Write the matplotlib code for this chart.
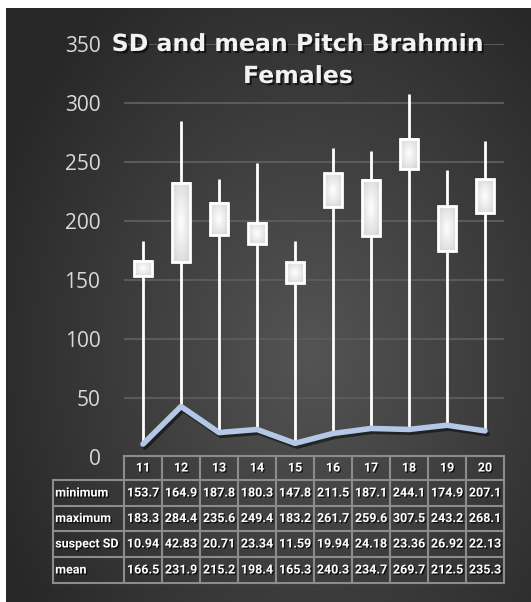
import numpy as np
import matplotlib.pyplot as plt
from matplotlib import patheffects as pe
from matplotlib.patches import Rectangle
from matplotlib.transforms import blended_transform_factory

categories = ['11', '12', '13', '14', '15', '16', '17', '18', '19', '20']
minimum = [153.7, 164.9, 187.8, 180.3, 147.8, 211.5, 187.1, 244.1, 174.9, 207.1]
maximum = [183.3, 284.4, 235.6, 249.4, 183.2, 261.7, 259.6, 307.5, 243.2, 268.1]
suspect_sd = [10.94, 42.83, 20.71, 23.34, 11.59, 19.94, 24.18, 23.36, 26.92, 22.13]
mean = [166.5, 231.9, 215.2, 198.4, 165.3, 240.3, 234.7, 269.7, 212.5, 235.3]

W, H = 531, 602
fig = plt.figure(figsize=(W / 100, H / 100), dpi=100)
fig.patch.set_facecolor('white')

# dark radial background
bg = fig.add_axes([6 / W, 0, 1 - 6 / W, 1 - 8 / H])
yy, xx = np.mgrid[1:0:400j, 0:1:400j]
r = np.sqrt(((xx - 0.58) / 0.75) ** 2 + ((yy - 0.42) / 0.85) ** 2)
shade = 0.33 - 0.17 * np.clip(r / 0.85, 0, 1)
bg.imshow(np.dstack([shade] * 3), extent=(0, 1, 0, 1), aspect='auto')
bg.axis('off')

ax = fig.add_axes([124 / W, 1 - 457 / H, 380 / W, 413 / H])
ax.patch.set_alpha(0)
x = np.arange(len(categories))

ax.vlines(x, suspect_sd, maximum, colors='white', lw=2, zorder=2)

# up bars with a soft radial fill
bw = 0.45
gy, gx = np.mgrid[-1:1:60j, -1:1:30j]
glow = np.clip(1 - np.sqrt(gx ** 2 + gy ** 2) / 1.3, 0, 1)
box_img = np.dstack([0.84 + 0.16 * glow] * 3)
for i in x:
    lo, hi = min(minimum[i], mean[i]), max(minimum[i], mean[i])
    ax.imshow(box_img, extent=(i - bw / 2, i + bw / 2, lo, hi), aspect='auto', zorder=3)
    ax.add_patch(Rectangle((i - bw / 2, lo), bw, hi - lo, fill=False,
                           ec='white', lw=2, zorder=4))

ax.plot(x, suspect_sd, color='#b4c7e7', lw=4, solid_capstyle='round', zorder=5,
        path_effects=[pe.SimpleLineShadow(offset=(1.5, -2), shadow_color='black', alpha=0.5),
                      pe.Normal()])

ax.set_xlim(-0.5, 9.5)
ax.set_ylim(0, 350)
ax.set_yticks(range(0, 351, 50))
ax.set_xticks([])
ax.grid(axis='y', color='#5a5a5a', lw=1.5, zorder=0)
for s in ax.spines.values():
    s.set_visible(False)
ax.tick_params(axis='y', length=0, pad=17, labelsize=15, labelcolor='#d9d9d9')
for t in ax.get_yticklabels():
    t.set_family('Open Sans')

title_fx = [pe.SimplePatchShadow(offset=(1.5, -1.5), shadow_rgbFace='black', alpha=0.6), pe.Normal()]
fig.text(298 / W, 1 - 44 / H, 'SD and mean Pitch Brahmin', ha='center', va='center',
         fontsize=17, fontweight='bold', color='#f2f2f2', path_effects=title_fx)
fig.text(298 / W, 1 - 76 / H, 'Females', ha='center', va='center',
         fontsize=17, fontweight='bold', color='#f2f2f2', path_effects=title_fx)

# data table under the plot
tr = blended_transform_factory(ax.transData, fig.transFigure)
def fy(py):
    return 1 - py / H

rows_y = [456, 480, 506, 531, 557, 583]
left = -2.37
grid_kw = dict(color='#8c8c8c', lw=1.5, transform=tr, clip_on=False)
fig.add_artist(plt.Line2D([-0.5, 9.5], [fy(456)] * 2, **grid_kw))
for py in rows_y[1:]:
    fig.add_artist(plt.Line2D([left, 9.5], [fy(py)] * 2, **grid_kw))
fig.add_artist(plt.Line2D([left, left], [fy(480), fy(583)], **grid_kw))
for i in range(11):
    fig.add_artist(plt.Line2D([i - 0.5] * 2, [fy(456), fy(583)], **grid_kw))

cell_fx = [pe.SimplePatchShadow(offset=(1, -1), shadow_rgbFace='black', alpha=0.7), pe.Normal()]
cell_kw = dict(transform=tr, ha='center', va='center', color='white', fontweight='bold',
               family='Roboto', fontsize=9, path_effects=cell_fx)
for i, c in enumerate(categories):
    fig.text(i, fy(468), c, **cell_kw)

table_rows = [('minimum', minimum, '{:.1f}'), ('maximum', maximum, '{:.1f}'),
              ('suspect SD', suspect_sd, '{:.2f}'), ('mean', mean, '{:.1f}')]
for r_i, (name, vals, fmt) in enumerate(table_rows):
    yc = fy((rows_y[r_i + 1] + rows_y[r_i + 2]) / 2)
    fig.text(left + 0.06, yc, name, **{**cell_kw, 'ha': 'left'})
    for i, v in enumerate(vals):
        fig.text(i, yc, fmt.format(v), **cell_kw)

fig.savefig('out.png', dpi=100)
